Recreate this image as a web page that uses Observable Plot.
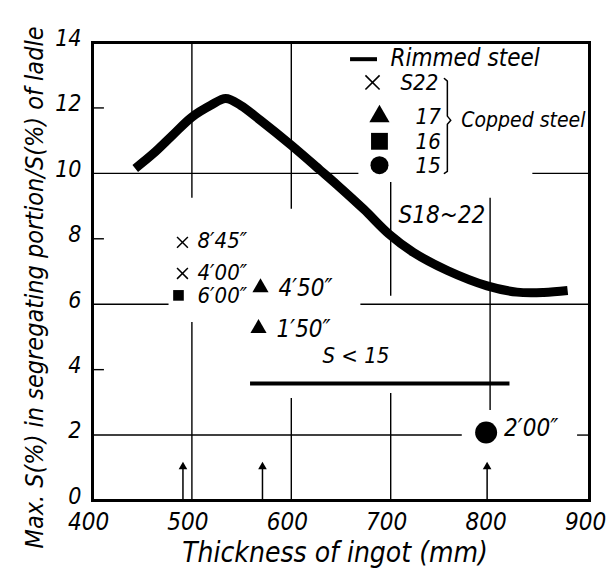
<!DOCTYPE html>
<html>
<head>
<meta charset="utf-8">
<script src="https://cdn.jsdelivr.net/npm/d3@7"></script>
<script src="https://cdn.jsdelivr.net/npm/@observablehq/plot@0.6"></script>
<style>
  html, body { margin: 0; padding: 0; background: #fff; }
  #chart svg { display: block; }
</style>
</head>
<body>
<div id="chart"></div>
<script>
// ---- tick labels ----
const xTicks = [400, 500, 600, 700, 800, 900];
const yTicks = [0, 2, 4, 6, 8, 10, 12, 14];

// ---- Rimmed steel curve ----
const rimX = [443, 461, 480, 500, 519, 534, 549, 569, 600, 629, 646, 673, 698, 723, 757, 797, 827, 854, 878];
const rimY = [10.15, 10.6, 11.15, 11.72, 12.08, 12.29, 12.08, 11.62, 10.86, 10.1, 9.65, 8.9, 8.15, 7.58, 7.03, 6.56, 6.37, 6.36, 6.42];

// ---- S < 15 band ----
const lowSX = [559, 820];
const lowSY = 3.58;

// ---- Capped steel points ----
const crossX = [490.5, 490.5];
const crossY = [7.89, 6.94];
const crossLabel = ["8′45″", "4′00″"];

const squareX = [486.5];
const squareY = [6.27];
const squareLabel = ["6′00″"];

const triX = [569, 567];
const triY = [6.51, 5.26];
const triLabel = ["4′50″", "1′50″"];

const circX = [796];
const circY = [2.08];
const circLabel = ["2′00″"];

// ---- arrows at the bottom ----
const arrowX = [491, 571, 797];
const arrowTip = 1.15;

// ---- partial grid lines ----
const hGridY  = [10, 10, 6, 6, 2, 2];
const hGridX1 = [400, 843, 400, 670, 400, 888];
const hGridX2 = [668, 900, 477, 900, 772, 900];
const vGridX  = [500, 500, 600, 600, 700, 700, 800];
const vGridY1 = [14, 5.44, 14, 3.12, 9.72, 3.27, 9.24];
const vGridY2 = [9.24, 0, 8.9, 0, 6.24, 0, 2.75];
const innerTickY = [4, 8, 12];

// ---- annotations ----
const noteText = ["S18~22", "S < 15"];
const noteX = [707.8, 631.4];
const noteY = [8.72, 4.43];
const noteSize = [24, 22];

// ---- legend ----
const legLineX = [659.6, 686.7];
const legLineY = 13.49;
const legRimText = "Rimmed steel";
const legRimX = 699.8;
const legSymX = 688.7;
const legSymY = [12.78, 11.74, 10.98, 10.25];
const legNumText = ["S22", "17", "16", "15"];
const legNumX = [709.9, 725, 725, 725];
const bracketX = [754, 757, 757, 760.5, 757, 757, 754];
const bracketY = [12.9, 12.82, 11.75, 11.62, 11.5, 10.06, 10.0];
const cappedText = "Copped steel";
const cappedX = 771;
const cappedY = 11.62;

const xLabel = "Thickness of ingot (mm)";
const yLabel = "Max. S(%) in segregating portion/S(%) of ladle";

const FONT = "'DejaVu Sans Condensed', 'Liberation Sans Narrow', 'DejaVu Sans', sans-serif";

// build tables
const rim = rimX.map((x, i) => ({x, y: rimY[i]}));
const crosses = crossX.map((x, i) => ({x, y: crossY[i], label: crossLabel[i]}));
const squares = squareX.map((x, i) => ({x, y: squareY[i], label: squareLabel[i]}));
const tris = triX.map((x, i) => ({x, y: triY[i], label: triLabel[i]}));
const circs = circX.map((x, i) => ({x, y: circY[i], label: circLabel[i]}));
const hGrid = hGridY.map((y, i) => ({y, x1: hGridX1[i], x2: hGridX2[i]}));
const vGrid = vGridX.map((x, i) => ({x, y1: vGridY1[i], y2: vGridY2[i]}));
const notes = noteText.map((t, i) => ({t, x: noteX[i], y: noteY[i], s: noteSize[i]}));
const legNums = legNumText.map((t, i) => ({t, x: legNumX[i], y: legSymY[i]}));
const bracket = bracketX.map((x, i) => ({x, y: bracketY[i]}));

const txt = {fontFamily: FONT, fontStyle: "italic", fill: "black", textAnchor: "start"};

const chart = Plot.plot({
  width: 613,
  height: 578,
  marginLeft: 92,
  marginRight: 24,
  marginTop: 42,
  marginBottom: 78,
  x: {domain: [400, 900]},
  y: {domain: [0, 14]},
  style: {background: "white", color: "black", fontFamily: FONT},
  marks: [
    // partial grid
    Plot.ruleY(hGrid, {y: "y", x1: "x1", x2: "x2", stroke: "black", strokeWidth: 1.4}),
    Plot.ruleX(vGrid, {x: "x", y1: "y1", y2: "y2", stroke: "black", strokeWidth: 1.4}),
    Plot.ruleY(innerTickY, {y: d => d, x1: 400, x2: 412, stroke: "black", strokeWidth: 1.4}),
    // frame
    Plot.frame({stroke: "black", strokeWidth: 3}),
    // axes
    Plot.axisX({ticks: xTicks, tickSize: 0, tickPadding: 12, dx: -4, fontSize: 24, fontStyle: "italic", fontFamily: FONT, tickFormat: d => String(d)}),
    Plot.axisY({ticks: yTicks, tickSize: 0, tickPadding: 11, dy: -4, fontSize: 23, fontStyle: "italic", fontFamily: FONT, tickFormat: d => String(d)}),
    // rimmed steel curve
    Plot.line(rim, {x: "x", y: "y", curve: "catmull-rom", stroke: "black", strokeWidth: 9, strokeLinecap: "butt"}),
    // S < 15 band
    Plot.ruleY([lowSY], {y: d => d, x1: lowSX[0], x2: lowSX[1], stroke: "black", strokeWidth: 4}),
    // arrows
    Plot.ruleX(arrowX, {x: d => d, y1: 0, y2: arrowTip - 0.2, stroke: "black", strokeWidth: 1.5}),
    Plot.dot(arrowX, {x: d => d, y: arrowTip - 0.12, symbol: "triangle", r: 3.2, fill: "black", stroke: "none"}),
    // points
    Plot.dot(crosses, {x: "x", y: "y", symbol: "times", r: 5, stroke: "black", strokeWidth: 1.5}),
    Plot.dot(squares, {x: "x", y: "y", symbol: "square", r: 6, fill: "black", stroke: "none"}),
    Plot.dot(tris, {x: "x", y: "y", symbol: "triangle", r: 6, fill: "black", stroke: "none"}),
    Plot.dot(circs, {x: "x", y: "y", symbol: "circle", r: 11, fill: "black", stroke: "none"}),
    Plot.text(crosses, {x: "x", y: "y", text: "label", dx: 15, dy: -1, fontSize: 22, ...txt}),
    Plot.text(squares, {x: "x", y: "y", text: "label", dx: 19, dy: 1, fontSize: 22, ...txt}),
    Plot.text(tris, {x: "x", y: "y", text: "label", dx: 18, dy: 1, fontSize: 24, ...txt}),
    Plot.text(circs, {x: "x", y: "y", text: "label", dx: 18, dy: -4, fontSize: 24, ...txt}),
    // annotations
    Plot.text(notes, {x: "x", y: "y", text: "t", fontSize: "s", ...txt}),
    // legend
    Plot.ruleY([legLineY], {y: d => d, x1: legLineX[0], x2: legLineX[1], stroke: "black", strokeWidth: 4}),
    Plot.text([legRimText], {x: legRimX, y: legLineY, dy: -1, text: d => d, fontSize: 24, ...txt}),
    Plot.dot([legSymY[0]], {x: legSymX - 7, y: d => d, symbol: "times", r: 6.5, stroke: "black", strokeWidth: 1.6}),
    Plot.dot([legSymY[1]], {x: legSymX, y: d => d, symbol: "triangle", r: 7.5, fill: "black", stroke: "none"}),
    Plot.dot([legSymY[2]], {x: legSymX, y: d => d, symbol: "square", r: 9.5, fill: "black", stroke: "none"}),
    Plot.dot([legSymY[3]], {x: legSymX, y: d => d, symbol: "circle", r: 9, fill: "black", stroke: "none"}),
    Plot.text(legNums, {x: "x", y: "y", text: "t", dy: 1, fontSize: 22, ...txt}),
    Plot.line(bracket, {x: "x", y: "y", stroke: "black", strokeWidth: 1.5, curve: "linear"}),
    Plot.text([cappedText], {x: cappedX, y: cappedY, text: d => d, fontSize: 21, ...txt}),
    // axis titles
    Plot.text([xLabel], {frameAnchor: "bottom", dy: 61, dx: -6, textAnchor: "middle", text: d => d, fontSize: 28, fontFamily: FONT, fontStyle: "italic", fill: "black"}),
    Plot.text([yLabel], {frameAnchor: "left", dx: -58, dy: 16, rotate: -90, textAnchor: "middle", text: d => d, fontSize: 25, fontFamily: FONT, fontStyle: "italic", fill: "black"})
  ]
});
document.getElementById("chart").appendChild(chart);
</script>
</body>
</html>
